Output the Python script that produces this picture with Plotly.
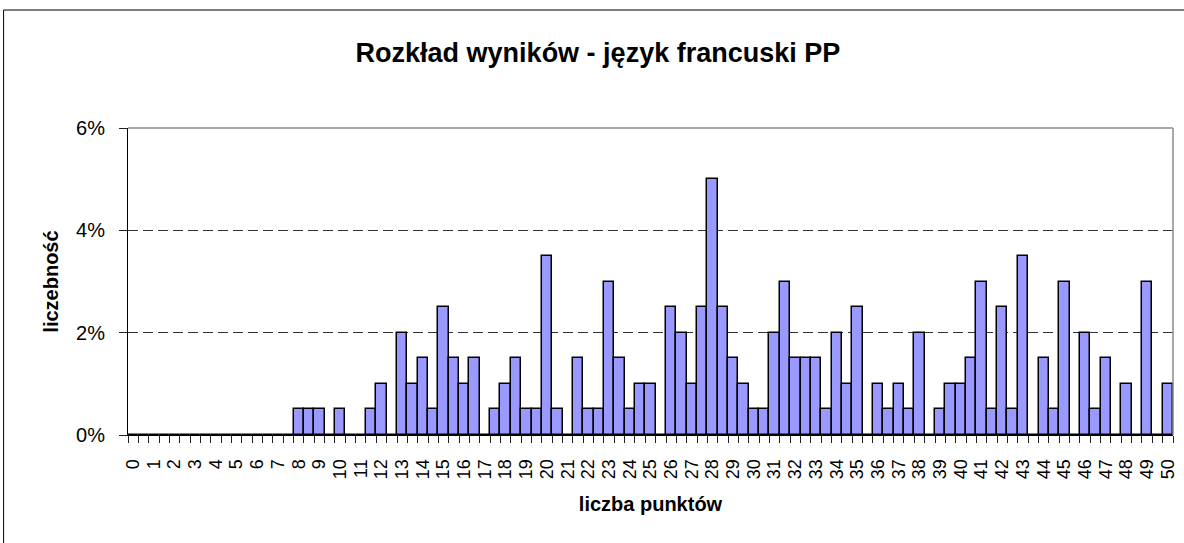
import plotly.graph_objects as go

# Score categories (0 to 50 in half-point steps)
scores = [i / 2 for i in range(101)]

# Share of students (%) for each score
shares = [
    0, 0, 0, 0, 0, 0, 0, 0, 0, 0,            # 0 - 4.5
    0, 0, 0, 0, 0, 0,                        # 5 - 7.5
    0.5, 0.5, 0.5, 0, 0.5, 0, 0, 0.5, 1.0, 0,  # 8 - 12.5
    2.0, 1.0, 1.5, 0.5, 2.5, 1.5, 1.0, 1.5, 0, 0.5,  # 13 - 17.5
    1.0, 1.5, 0.5, 0.5, 3.5, 0.5, 0, 1.5, 0.5, 0.5,  # 18 - 22.5
    3.0, 1.5, 0.5, 1.0, 1.0, 0, 2.5, 2.0, 1.0, 2.5,  # 23 - 27.5
    5.0, 2.5, 1.5, 1.0, 0.5, 0.5, 2.0, 3.0, 1.5, 1.5,  # 28 - 32.5
    1.5, 0.5, 2.0, 1.0, 2.5, 0, 1.0, 0.5, 1.0, 0.5,  # 33 - 37.5
    2.0, 0, 0.5, 1.0, 1.0, 1.5, 3.0, 0.5, 2.5, 0.5,  # 38 - 42.5
    3.5, 0, 1.5, 0.5, 3.0, 0, 2.0, 0.5, 1.5, 0,      # 43 - 47.5
    1.0, 0, 3.0, 0, 1.0,                             # 48 - 50
]

tick_values = list(range(0, 51))
tick_labels = [str(v) for v in tick_values]
y_ticks = [0, 2, 4, 6]
y_tick_labels = ["0%", "2%", "4%", "6%"]

title_text = "Rozkład wyników - język francuski PP"
x_title = "liczba punktów"
y_title = "liczebność"

W, H = 1184, 543
L, R, T, B = 128, 6, 128, 108
pw, ph = W - L - R, H - T - B

fig = go.Figure()
fig.add_trace(go.Bar(
    x=scores, y=shares, width=0.5,
    marker=dict(color="#9999FF", line=dict(color="black", width=1.5)),
    hoverinfo="x+y",
))

font_family = "Liberation Sans, Arial, sans-serif"

fig.update_layout(
    width=W, height=H,
    margin=dict(l=L, r=R, t=T, b=B, pad=0),
    paper_bgcolor="white", plot_bgcolor="white",
    showlegend=False,
    bargap=0,
    font=dict(family=font_family, color="black"),
    title=dict(
        text="<b>" + title_text + "</b>",
        font=dict(size=27, family=font_family, color="black"),
        x=0.505, xref="container", xanchor="center",
        y=1 - 53 / H, yref="container", yanchor="middle",
    ),
    xaxis=dict(
        range=[-0.25, 50.25],
        tickmode="array", tickvals=tick_values, ticktext=tick_labels,
        tickangle=-90,
        tickfont=dict(size=18, family=font_family, color="black"),
        ticks="outside", ticklen=7, tickcolor="rgba(0,0,0,0)",
        ticklabelstandoff=9,
        minor=dict(ticks="outside", ticklen=7, tickcolor="#222222", tickwidth=1,
                   tickmode="linear", tick0=-0.25, dtick=0.5, showgrid=False),
        showline=True, linecolor="black", linewidth=1,
        showgrid=False, zeroline=False,
        title=dict(text="<b>" + x_title + "</b>",
                   font=dict(size=20, family=font_family, color="black"),
                   standoff=18),
        fixedrange=True,
    ),
    yaxis=dict(
        range=[0, 6],
        tickmode="array", tickvals=y_ticks, ticktext=y_tick_labels,
        tickfont=dict(size=20, family=font_family, color="black"),
        ticks="outside", ticklen=8, tickcolor="#222222",
        ticklabelstandoff=10,
        showline=True, linecolor="black", linewidth=1,
        showgrid=True, gridcolor="#333333", gridwidth=1, griddash="10px,5px",
        zeroline=False,
        title=dict(text="<b>" + y_title + "</b>",
                   font=dict(size=20, family=font_family, color="black"),
                   standoff=12),
        fixedrange=True,
    ),
    shapes=[
        # plot-area border (top and right), grey
        dict(type="line", xref="paper", yref="paper", x0=0, x1=1, y0=1, y1=1,
             line=dict(color="#8c8c8c", width=1.5), layer="above"),
        dict(type="line", xref="paper", yref="paper", x0=1, x1=1, y0=0, y1=1,
             line=dict(color="#8c8c8c", width=1.5), layer="above"),
        # outer chart frame (left and top edges visible)
        dict(type="line", xref="paper", yref="paper",
             x0=(3 - L) / pw, x1=(W + 10 - L) / pw,
             y0=(H - B - 10) / ph, y1=(H - B - 10) / ph,
             line=dict(color="black", width=1)),
        dict(type="line", xref="paper", yref="paper",
             x0=(3 - L) / pw, x1=(3 - L) / pw,
             y0=(H - B - 10) / ph, y1=-(B + 20) / ph,
             line=dict(color="black", width=1)),
    ],
)

fig.write_html("out.html", config={"displayModeBar": False},
               post_script="document.body.style.margin='0';")
